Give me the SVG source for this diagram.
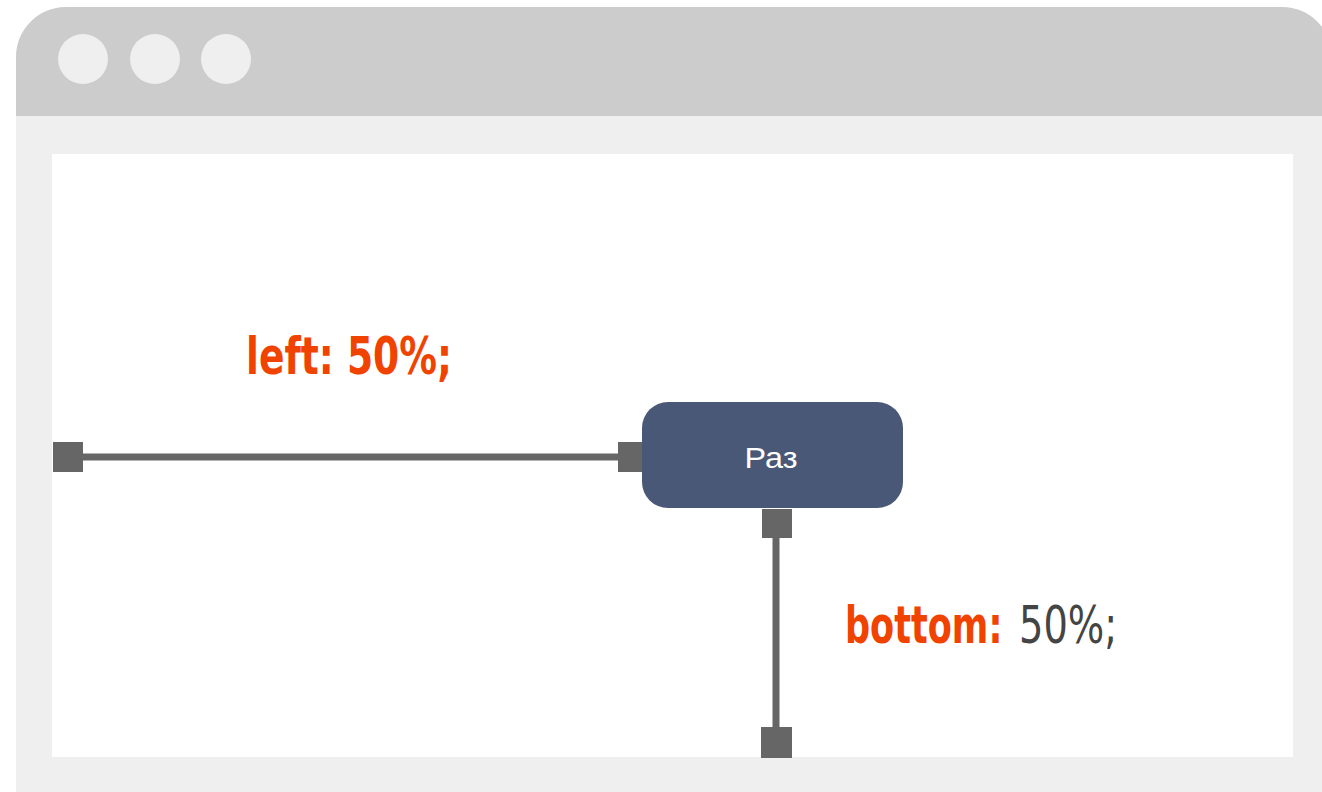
<svg xmlns="http://www.w3.org/2000/svg" width="1322" height="792" viewBox="0 0 1322 792">
<style>
.pin{fill:#666666}
.wire{stroke:#666666;stroke-width:7;fill:none}
.lbl{font-family:"Liberation Sans Narrow","DejaVu Sans Condensed","Liberation Sans",sans-serif;font-size:52px}
.hot{fill:#f04300;font-weight:bold}
.val{fill:#444444;font-weight:normal}
</style>
<rect width="1322" height="792" fill="#ffffff"/>
<g id="window">
<path d="M16,792 V57 A50,50 0 0 1 66,7 H1282 A50,50 0 0 1 1332,57 V792 Z" fill="#efefef"/>
<path d="M16,116 V57 A50,50 0 0 1 66,7 H1282 A50,50 0 0 1 1332,57 V116 Z" fill="#cccccc"/>
<circle cx="83" cy="59" r="25" fill="#efefef"/>
<circle cx="155" cy="59" r="25" fill="#efefef"/>
<circle cx="226" cy="59" r="25" fill="#efefef"/>
<rect x="52" y="154" width="1241" height="603" fill="#ffffff"/>
</g>
<g id="connectors">
<line class="wire" x1="83" y1="457" x2="620" y2="457"/>
<line class="wire" x1="776" y1="538" x2="776" y2="728"/>
<rect class="pin" x="53" y="442" width="30" height="30"/>
<rect class="pin" x="618" y="442" width="27" height="30"/>
<rect class="pin" x="762" y="509" width="30" height="29"/>
<rect class="pin" x="761" y="727" width="31" height="31"/>
</g>
<g id="node-raz">
<rect x="642" y="402" width="261" height="106" rx="26" fill="#4a5878"/>
<text x="771" y="468" text-anchor="middle" font-family="Liberation Sans, Arial, sans-serif" font-size="29" fill="#ffffff" textLength="53" lengthAdjust="spacingAndGlyphs">Раз</text>
</g>
<g id="label-left">
<text class="lbl hot" x="246" y="374" textLength="206" lengthAdjust="spacingAndGlyphs">left: 50%;</text>
</g>
<g id="label-bottom">
<text class="lbl hot" transform="translate(845,643) scale(0.75,1)" x="0" y="0">bottom:</text>
<text class="lbl val" transform="translate(1019,643) scale(0.82,1)" x="0" y="0">50%;</text>
</g>
</svg>
